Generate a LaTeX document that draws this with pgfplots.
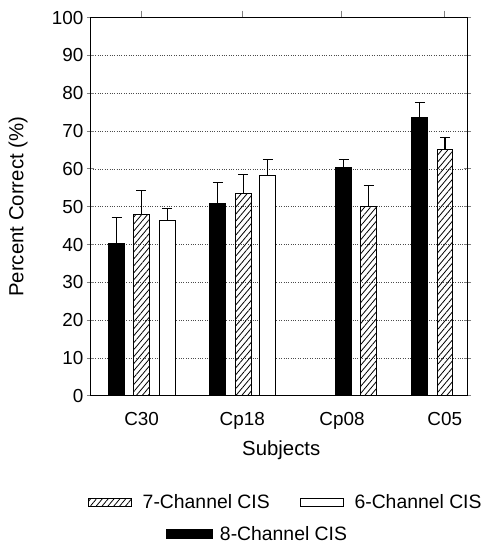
\documentclass[border=0pt]{standalone}
\usepackage{fontspec}
\setmainfont{Liberation Sans}
\usepackage{pgfplots}
\pgfplotsset{compat=1.18}
\usetikzlibrary{patterns.meta}
\begin{document}
\begin{tikzpicture}
\tikzset{hatch/.style={pattern={Lines[angle=50,distance=4.5bp,line width=0.8bp]}, pattern color=black}}
\pgfplotsset{
  swatch/.style={legend image code/.code={\draw[##1,line width=1bp] (0bp,-4bp) rectangle (43bp,4bp); \path (52bp,0bp);}},
}
\path (-90.7bp,-147bp) rectangle (393.3bp,397bp);
\begin{axis}[
  at={(0,0)}, anchor=south west,
  scale only axis, width=378.3bp, height=379.3bp,
  xmin=90.7, xmax=469, ymin=0, ymax=100,
  ytick={0,10,...,100},
  xtick={142,243,343,446},
  xticklabels={C30,Cp18,Cp08,C05},
  xtick pos=right, xticklabel pos=left,
  x tick style={line width=1bp}, xtick align=inside,
  ytick pos=both, ytick align=center, major tick length=7bp,
  y tick style={line width=1bp},
  axis line style={line width=1.3bp},
  ymajorgrids, major grid style={dotted, line width=0.8bp, black!70},
  tick label style={font=\fontsize{19}{22}\selectfont},
  /pgf/number format/assume math mode=true,
  xticklabel style={yshift=-6bp},
  xlabel={Subjects}, ylabel={Percent Correct (\%)},
  label style={font=\fontsize{20.5}{24}\selectfont},
  xlabel style={at={(axis description cs:0.506,-0.145)}, anchor=center},
  ylabel style={at={(axis description cs:-0.192,0.5)}, anchor=center},
  legend columns=2,
  legend style={at={(axis description cs:-0.0072,-0.282)}, anchor=west, draw=none, fill=none, inner sep=0pt,
    font=\fontsize{19.5}{22}\selectfont, /tikz/every even column/.append style={column sep=28bp}},
  ybar, bar width=16, bar shift=0pt,
  error bars/y dir=plus, error bars/y explicit,
  error bars/error bar style={line width=1.1bp, black},
  error bars/error mark options={rotate=90, mark size=5bp, line width=1.1bp, black},
  clip=false,
]
% 8-Channel CIS (black)
\addplot[fill=black, draw=black, line width=1bp, forget plot] coordinates {
  (117,40.4) +- (0,6.7)
  (218.5,50.9) +- (0,5.5)
  (344.7,60.5) +- (0,2.0)
  (421,73.6) +- (0,3.9)
};
% 7-Channel CIS (hatched)
\addplot[hatch, draw=black, line width=1bp, swatch] coordinates {
  (141.7,47.9) +- (0,6.5)
  (243.8,53.6) +- (0,5.0)
  (369.8,50.0) +- (0,5.5)
  (446.3,65.2) +- (0,3.2)
};
\addlegendentry{7-Channel CIS}
% 6-Channel CIS (white)
\addplot[fill=white, draw=black, line width=1bp, swatch] coordinates {
  (167.7,46.4) +- (0,3.2)
  (268.7,58.3) +- (0,4.2)
};
\addlegendentry{6-Channel CIS}
\end{axis}
\begin{axis}[
  at={(0,0)}, anchor=south west,
  scale only axis, width=378.3bp, height=379.3bp,
  xmin=0, xmax=1, ymin=0, ymax=1, hide axis,
  legend style={at={(axis description cs:0.201,-0.366)}, anchor=west, draw=none, fill=none, inner sep=0pt,
    font=\fontsize{19.5}{22}\selectfont},
  legend image code/.code={\draw[#1,line width=1bp] (0bp,-4.5bp) rectangle (46bp,4.5bp); \path (51bp,0bp);},
]
\addlegendimage{fill=black, draw=black}
\addlegendentry{8-Channel CIS}
\end{axis}
\end{tikzpicture}
\end{document}
